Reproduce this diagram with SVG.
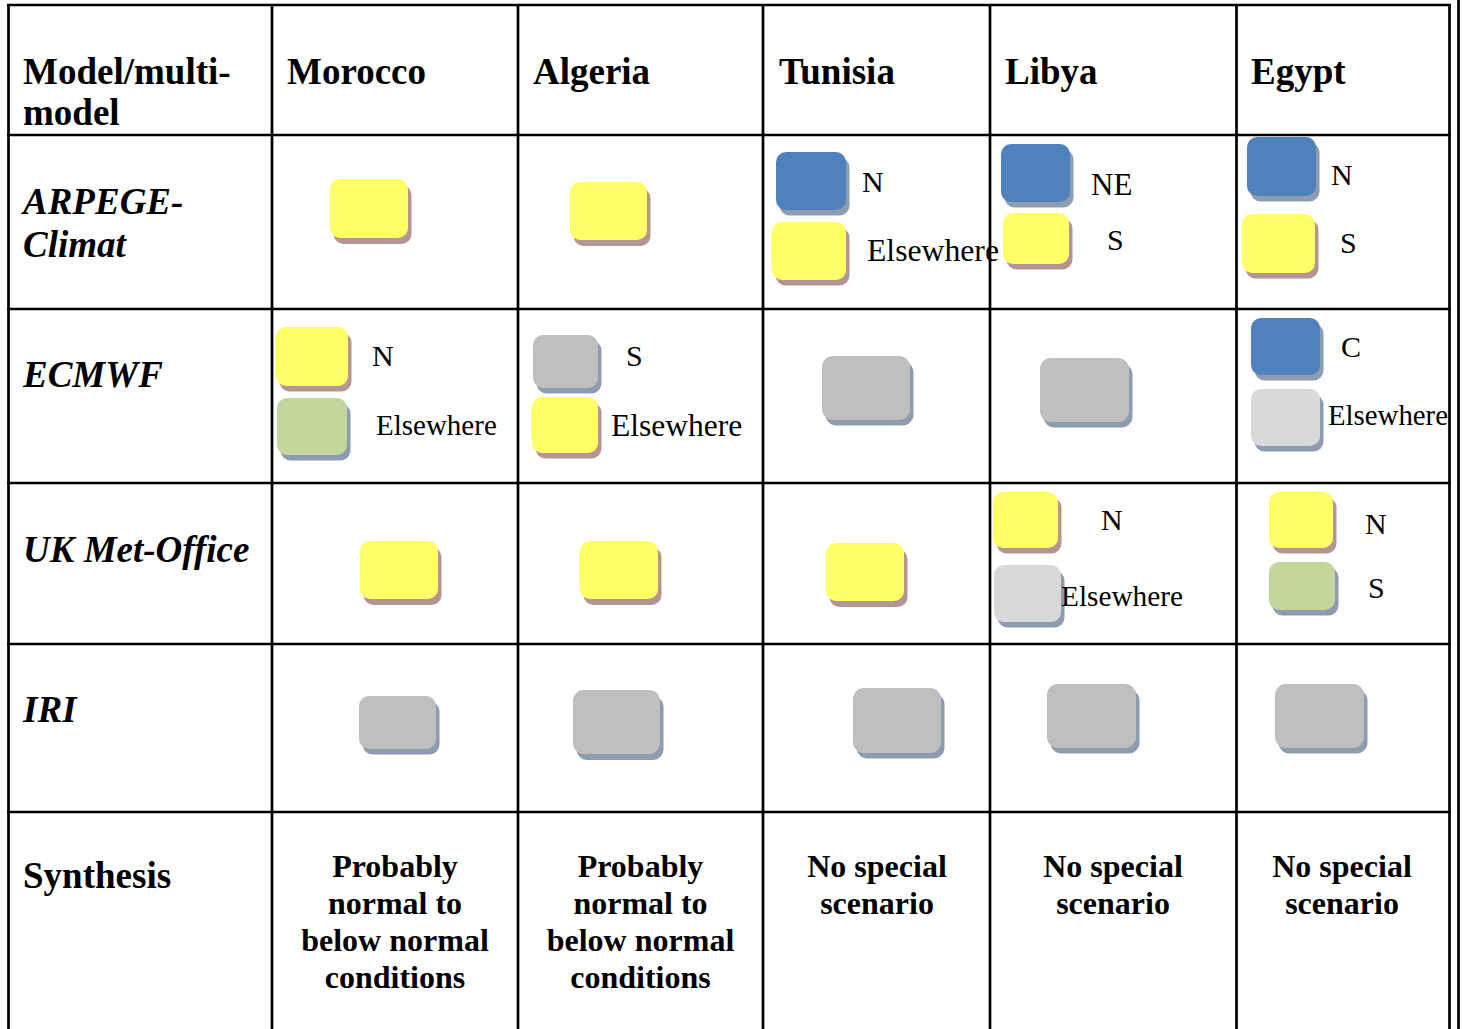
<svg xmlns="http://www.w3.org/2000/svg" width="1462" height="1029" viewBox="0 0 1462 1029">
<style>
.hd{font-family:"Liberation Serif","Times New Roman",serif;font-weight:bold;font-size:37px;fill:#000}
.rl{font-family:"Liberation Serif","Times New Roman",serif;font-weight:bold;font-style:italic;font-size:37px;fill:#000}
.sy{font-family:"Liberation Serif","Times New Roman",serif;font-weight:bold;font-size:32px;fill:#000;text-anchor:middle}
.lb{font-family:"Liberation Serif","Times New Roman",serif;font-size:30px;fill:#000}
.grid line{stroke:#000;stroke-width:2.7}
.y{fill:#ffff66}.b{fill:#4f81bd}.g{fill:#bfbfbf}.lg{fill:#d9d9d9}.gn{fill:#c3d69b}
.shy{fill:#b59494}.shb{fill:#8e9cb2}
</style>
<rect width="1462" height="1029" fill="#fff"/>

<g id="grid" class="grid">
<line x1="7" y1="5" x2="1451" y2="5"/>
<line x1="7" y1="135" x2="1451" y2="135"/>
<line x1="7" y1="309" x2="1451" y2="309"/>
<line x1="7" y1="483" x2="1451" y2="483"/>
<line x1="7" y1="644" x2="1451" y2="644"/>
<line x1="7" y1="812" x2="1451" y2="812"/>
<line x1="8.5" y1="4" x2="8.5" y2="1029"/>
<line x1="272" y1="4" x2="272" y2="1029"/>
<line x1="518" y1="4" x2="518" y2="1029"/>
<line x1="763" y1="4" x2="763" y2="1029"/>
<line x1="990" y1="4" x2="990" y2="1029"/>
<line x1="1236.5" y1="4" x2="1236.5" y2="1029"/>
<line x1="1449.5" y1="4" x2="1449.5" y2="1029"/>
<line x1="1458.5" y1="0" x2="1458.5" y2="1029"/>
</g>

<g id="header">
<text class="hd" x="23" y="84">Model/multi-</text>
<text class="hd" x="23" y="125">model</text>
<text class="hd" x="287" y="84">Morocco</text>
<text class="hd" x="533" y="84">Algeria</text>
<text class="hd" x="779" y="84">Tunisia</text>
<text class="hd" x="1005" y="84">Libya</text>
<text class="hd" x="1251" y="84">Egypt</text>
</g>

<g id="row-labels">
<text class="rl" x="23" y="214">ARPEGE-</text>
<text class="rl" x="23" y="257">Climat</text>
<text class="rl" x="23" y="387">ECMWF</text>
<text class="rl" x="23" y="562">UK Met-Office</text>
<text class="rl" x="23" y="722">IRI</text>
<text class="hd" x="23" y="888">Synthesis</text>
</g>

<g id="arpege-morocco"><rect class="shy" x="333.5" y="185" width="78" height="59" rx="10"/><rect class="y" x="330" y="179" width="78" height="59" rx="10"/></g>
<g id="arpege-algeria"><rect class="shy" x="573.5" y="188" width="77" height="58" rx="10"/><rect class="y" x="570" y="182" width="77" height="58" rx="10"/></g>
<g id="arpege-tunisia">
<rect class="shb" x="779.5" y="157.5" width="70" height="58" rx="10"/><rect class="b" x="776" y="152" width="70" height="58" rx="10"/>
<rect class="shy" x="775.5" y="227.5" width="74" height="58" rx="10"/><rect class="y" x="772" y="222" width="74" height="58" rx="10"/>
<text class="lb" x="862" y="192">N</text>
<text class="lb" x="867" y="261" style="font-size:31.7px">Elsewhere</text>
</g>
<g id="arpege-libya">
<rect class="shb" x="1004.5" y="149.5" width="69" height="58" rx="10"/><rect class="b" x="1001" y="144" width="69" height="58" rx="10"/>
<rect class="shy" x="1006.5" y="218.5" width="66" height="51" rx="10"/><rect class="y" x="1003" y="213" width="66" height="51" rx="10"/>
<text class="lb" x="1091" y="195" style="font-size:31px">NE</text>
<text class="lb" x="1107" y="250">S</text>
</g>
<g id="arpege-egypt">
<rect class="shb" x="1250.5" y="142.5" width="69" height="59" rx="10"/><rect class="b" x="1247" y="137" width="69" height="59" rx="10"/>
<rect class="shy" x="1245.5" y="219.5" width="73" height="59" rx="10"/><rect class="y" x="1242" y="214" width="73" height="59" rx="10"/>
<text class="lb" x="1331" y="185">N</text>
<text class="lb" x="1340" y="253">S</text>
</g>

<g id="ecmwf-morocco">
<rect class="shy" x="279.5" y="332.5" width="72" height="59" rx="10"/><rect class="y" x="276" y="327" width="72" height="59" rx="10"/>
<rect class="shb" x="280.5" y="403.5" width="70" height="57" rx="10"/><rect class="gn" x="277" y="398" width="70" height="57" rx="10"/>
<text class="lb" x="372" y="366">N</text>
<text class="lb" x="376" y="435" style="font-size:29px">Elsewhere</text>
</g>
<g id="ecmwf-algeria">
<rect class="shb" x="536.5" y="340.5" width="65" height="53" rx="10"/><rect class="g" x="533" y="335" width="65" height="53" rx="10"/>
<rect class="shy" x="535.5" y="402.5" width="66" height="56" rx="10"/><rect class="y" x="532" y="397" width="66" height="56" rx="10"/>
<text class="lb" x="626" y="366">S</text>
<text class="lb" x="611" y="436" style="font-size:31.5px">Elsewhere</text>
</g>
<g id="ecmwf-tunisia"><rect class="shb" x="825.5" y="361.5" width="88" height="64" rx="11"/><rect class="g" x="822" y="356" width="88" height="64" rx="11"/></g>
<g id="ecmwf-libya"><rect class="shb" x="1043.5" y="363.5" width="89" height="64" rx="11"/><rect class="g" x="1040" y="358" width="89" height="64" rx="11"/></g>
<g id="ecmwf-egypt">
<rect class="shb" x="1254.5" y="323.5" width="69" height="57" rx="10"/><rect class="b" x="1251" y="318" width="69" height="57" rx="10"/>
<rect class="shb" x="1254.5" y="394.5" width="69" height="57" rx="10"/><rect class="lg" x="1251" y="389" width="69" height="57" rx="10"/>
<text class="lb" x="1341" y="357">C</text>
<text class="lb" x="1328" y="425" style="font-size:28.8px">Elsewhere</text>
</g>

<g id="uk-morocco"><rect class="shy" x="363.5" y="547" width="78" height="58" rx="10"/><rect class="y" x="360" y="541" width="78" height="58" rx="10"/></g>
<g id="uk-algeria"><rect class="shy" x="583.5" y="547" width="78" height="58" rx="10"/><rect class="y" x="580" y="541" width="78" height="58" rx="10"/></g>
<g id="uk-tunisia"><rect class="shy" x="829.5" y="549" width="78" height="58" rx="10"/><rect class="y" x="826" y="543" width="78" height="58" rx="10"/></g>
<g id="uk-libya">
<rect class="shy" x="996.5" y="497.5" width="65" height="56" rx="10"/><rect class="y" x="993" y="492" width="65" height="56" rx="10"/>
<rect class="shb" x="997.5" y="570.5" width="67" height="57" rx="10"/><rect class="lg" x="994" y="565" width="67" height="57" rx="10"/>
<text class="lb" x="1101" y="530">N</text>
<text class="lb" x="1061" y="606" style="font-size:29.3px">Elsewhere</text>
</g>
<g id="uk-egypt">
<rect class="shy" x="1272.5" y="497.5" width="64" height="56" rx="10"/><rect class="y" x="1269" y="492" width="64" height="56" rx="10"/>
<rect class="shb" x="1272.5" y="567.5" width="66" height="48" rx="10"/><rect class="gn" x="1269" y="562" width="66" height="48" rx="10"/>
<text class="lb" x="1365" y="534">N</text>
<text class="lb" x="1368" y="598">S</text>
</g>

<g id="iri-morocco"><rect class="shb" x="362.5" y="701.5" width="77" height="53" rx="10"/><rect class="g" x="359" y="696" width="77" height="53" rx="10"/></g>
<g id="iri-algeria"><rect class="shb" x="576.5" y="696" width="87" height="64" rx="11"/><rect class="g" x="573" y="690" width="87" height="64" rx="11"/></g>
<g id="iri-tunisia"><rect class="shb" x="856.5" y="693.5" width="88" height="65" rx="11"/><rect class="g" x="853" y="688" width="88" height="65" rx="11"/></g>
<g id="iri-libya"><rect class="shb" x="1050.5" y="689.5" width="89" height="64" rx="11"/><rect class="g" x="1047" y="684" width="89" height="64" rx="11"/></g>
<g id="iri-egypt"><rect class="shb" x="1278.5" y="689.5" width="89" height="64" rx="11"/><rect class="g" x="1275" y="684" width="89" height="64" rx="11"/></g>

<g id="synthesis-morocco">
<text class="sy" x="395" y="877">Probably</text>
<text class="sy" x="395" y="914">normal to</text>
<text class="sy" x="395" y="951">below normal</text>
<text class="sy" x="395" y="988">conditions</text>
</g>
<g id="synthesis-algeria">
<text class="sy" x="640.5" y="877">Probably</text>
<text class="sy" x="640.5" y="914">normal to</text>
<text class="sy" x="640.5" y="951">below normal</text>
<text class="sy" x="640.5" y="988">conditions</text>
</g>
<g id="synthesis-tunisia">
<text class="sy" x="877" y="877">No special</text>
<text class="sy" x="877" y="914">scenario</text>
</g>
<g id="synthesis-libya">
<text class="sy" x="1113" y="877">No special</text>
<text class="sy" x="1113" y="914">scenario</text>
</g>
<g id="synthesis-egypt">
<text class="sy" x="1342" y="877">No special</text>
<text class="sy" x="1342" y="914">scenario</text>
</g>
</svg>
